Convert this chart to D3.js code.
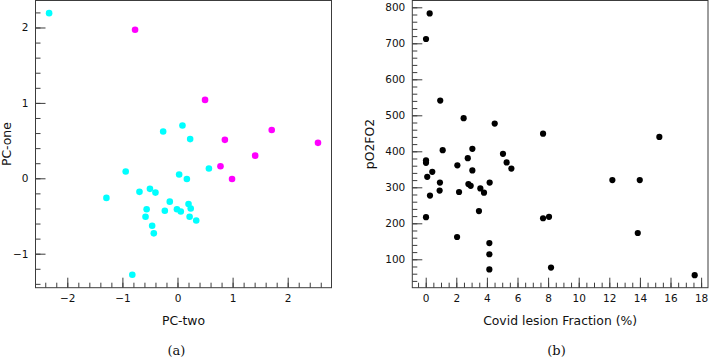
<!DOCTYPE html>
<html>
<head>
<meta charset="utf-8">
<script src="https://cdn.jsdelivr.net/npm/d3@7"></script>
<style>
  body { margin: 0; background: #fff; }
  svg text { font-family: "DejaVu Sans", sans-serif; fill: #111; }
  .caption { font-family: "DejaVu Serif", "Liberation Serif", serif; }
</style>
</head>
<body>
<div id="chart"></div>
<script>
// (a) PCA scatter: PC-two on x, PC-one on y
const cyanTwo = [-2.33, -0.26, -0.94, 0.03, 0.09, 0.23, 0.57, 0.17, -1.29, -0.69, -0.50, -0.40, -0.14, 0.20, 0.24, -0.23, -0.01, 0.06, -0.56, -0.58, 0.22, 0.34, -0.46, -0.43, -0.82];
const cyanOne = [2.19, 0.62, 0.09, 0.05, 0.70, 0.52, 0.13, -0.01, -0.26, -0.18, -0.14, -0.19, -0.31, -0.34, -0.40, -0.43, -0.41, -0.44, -0.41, -0.51, -0.51, -0.56, -0.63, -0.73, -1.28];
const magentaTwo = [-0.77, 0.50, 1.71, 0.86, 2.55, 1.41, 0.78, 0.99];
const magentaOne = [1.97, 1.04, 0.64, 0.51, 0.47, 0.30, 0.16, -0.01];

// (b) lesion fraction vs pO2FO2
const lesionFraction = [0.26, 0.02, 0.95, 2.48, 4.51, 1.11, 0.02, 0.02, 3.05, 2.75, 2.07, 5.05, 5.29, 5.60, 0.43, 0.10, 3.05,
  0.93, 2.79, 2.94, 4.18, 3.57, 0.28, 0.91, 2.18, 3.81, 3.48, 0.02, 2.05, 4.16, 4.16, 4.16,
  7.67, 15.27, 12.20, 13.99, 7.67, 8.06, 13.86, 8.19, 17.58];
const pO2FO2 = [783, 712, 541, 492, 477, 403, 375, 368, 407, 381, 361, 393, 369, 352, 343, 329, 347,
  313, 309, 304, 313, 297, 277, 291, 287, 285, 234, 217, 162, 145, 114, 72,
  449, 440, 320, 320, 214, 218, 173, 77, 56];

const pcTicks = [-2, -1, 0, 1, 2];
const pcOneTicks = [-1, 0, 1, 2];
const fracTicks = [0, 2, 4, 6, 8, 10, 12, 14, 16, 18];
const pTicks = [100, 200, 300, 400, 500, 600, 700, 800];

const width = 709, height = 361;
const frameColor = "#3c3c3c";

const svg = d3.select("#chart").append("svg")
  .attr("width", width)
  .attr("height", height);

function minorValues(start, stop, step) {
  const out = [];
  const n = Math.round((stop - start) / step);
  for (let i = 0; i <= n; i++) out.push(+(start + i * step).toFixed(4));
  return out;
}

function drawPanel(cfg) {
  const x = d3.scaleLinear().domain(cfg.xDomain).range([cfg.left, cfg.right]);
  const y = d3.scaleLinear().domain(cfg.yDomain).range([cfg.bottom, cfg.top]);
  const g = svg.append("g");

  // points first, frame on top
  cfg.series.forEach(s => {
    g.append("g").selectAll("circle")
      .data(s.xs.map((v, i) => [v, s.ys[i]]))
      .join("circle")
      .attr("cx", d => x(d[0]))
      .attr("cy", d => y(d[1]))
      .attr("r", s.r)
      .attr("fill", s.color);
  });

  const fmt = d => d3.format("")(d).replace("-", "\u2212");

  // minor ticks
  g.append("g").attr("transform", `translate(0,${cfg.bottom})`)
    .call(d3.axisBottom(x).tickValues(cfg.xMinor).tickSizeInner(-5).tickSizeOuter(0).tickFormat(""));
  g.append("g").attr("transform", `translate(${cfg.left},0)`)
    .call(d3.axisLeft(y).tickValues(cfg.yMinor).tickSizeInner(-5).tickSizeOuter(0).tickFormat(""));

  // major ticks
  g.append("g").attr("class", "major").attr("transform", `translate(0,${cfg.bottom})`)
    .call(d3.axisBottom(x).tickValues(cfg.xTicks).tickSizeInner(-10).tickSizeOuter(0).tickPadding(6.5).tickFormat(fmt));
  g.append("g").attr("class", "major").attr("transform", `translate(${cfg.left},0)`)
    .call(d3.axisLeft(y).tickValues(cfg.yTicks).tickSizeInner(-10).tickSizeOuter(0).tickPadding(7).tickFormat(fmt));

  g.selectAll(".domain").remove();
  g.selectAll(".tick line").attr("stroke", frameColor);
  g.selectAll(".tick text").attr("font-size", 10.5).attr("font-family", "DejaVu Sans").attr("fill", "#111");

  g.append("rect")
    .attr("x", cfg.left).attr("y", cfg.top)
    .attr("width", cfg.right - cfg.left).attr("height", cfg.bottom - cfg.top)
    .attr("fill", "none").attr("stroke", frameColor).attr("stroke-width", 1);

  g.append("text")
    .attr("x", (cfg.left + cfg.right) / 2).attr("y", 325)
    .attr("text-anchor", "middle").attr("font-size", 12.4)
    .text(cfg.xLabel);
  g.append("text")
    .attr("transform", `translate(${cfg.yLabelX},${(cfg.top + cfg.bottom) / 2}) rotate(-90)`)
    .attr("text-anchor", "middle").attr("font-size", 12.4)
    .text(cfg.yLabel);
  g.append("text")
    .attr("class", "caption")
    .attr("x", cfg.captionX).attr("y", 355)
    .attr("text-anchor", "middle").attr("font-size", 13)
    .text(cfg.caption);
}

drawPanel({
  left: 35.5, right: 331.5, top: 0.5, bottom: 287.7,
  xDomain: [-2.577, 2.795], yDomain: [-1.451, 2.358],
  xTicks: pcTicks, yTicks: pcOneTicks,
  xMinor: minorValues(-2.4, 2.6, 0.2), yMinor: minorValues(-1.4, 2.2, 0.2),
  series: [
    { xs: cyanTwo, ys: cyanOne, color: "#00ffff", r: 3.3 },
    { xs: magentaTwo, ys: magentaOne, color: "#ff00ff", r: 3.3 }
  ],
  xLabel: "PC-two", yLabel: "PC-one", yLabelX: 10.5,
  caption: "(a)", captionX: 176.5
});

drawPanel({
  left: 412.3, right: 708, top: 0.5, bottom: 287.7,
  xDomain: [-0.876, 18.45], yDomain: [21.1, 818.9],
  xTicks: fracTicks, yTicks: pTicks,
  xMinor: minorValues(-0.5, 18, 0.5), yMinor: minorValues(40, 800, 20),
  series: [
    { xs: lesionFraction, ys: pO2FO2, color: "#000", r: 3.1 }
  ],
  xLabel: "Covid lesion Fraction (%)", yLabel: "pO2FO2", yLabelX: 373.5,
  caption: "(b)", captionX: 556.5
});
</script>
</body>
</html>
